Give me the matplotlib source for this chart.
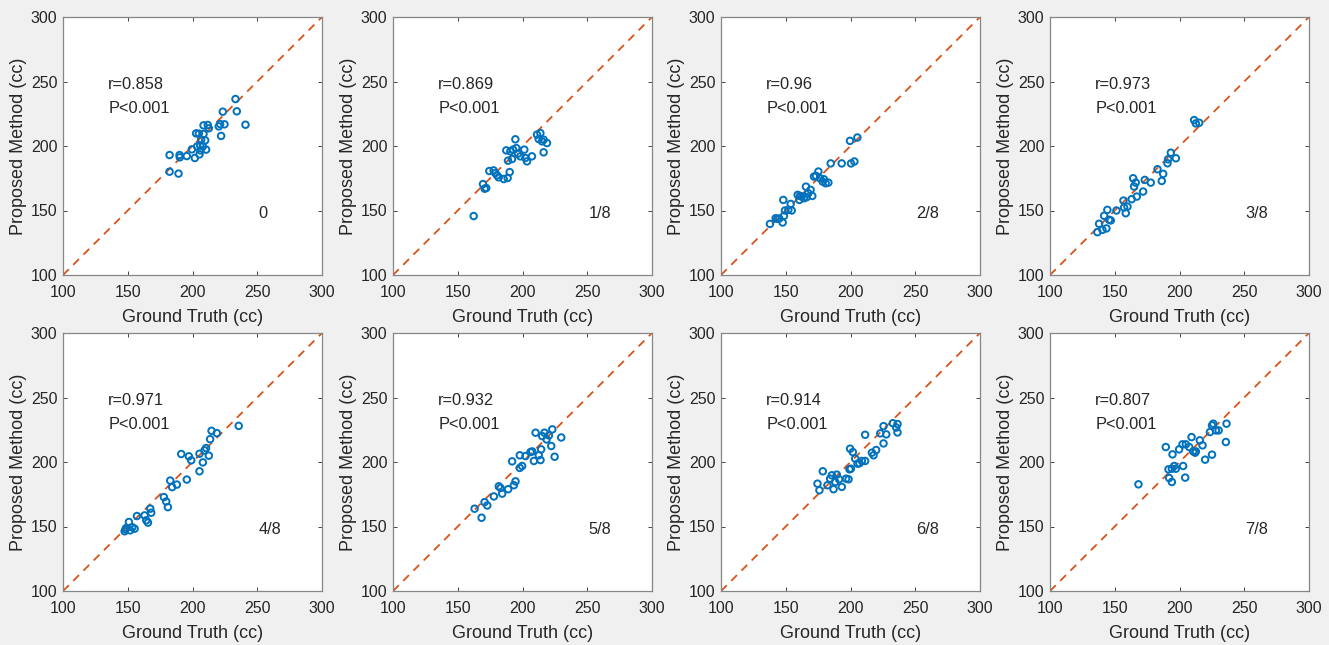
import numpy as np
import matplotlib

matplotlib.use("Agg")
import matplotlib.pyplot as plt  # noqa: E402

plt.rcParams["font.family"] = ["Liberation Sans", "DejaVu Sans"]

# per-panel data (ground truth, proposed method)
labels = ["0", "1/8", "2/8", "3/8", "4/8", "5/8", "6/8", "7/8"]
r_values = ["0.858", "0.869", "0.96", "0.973", "0.971", "0.932", "0.914", "0.807"]

gt_0 = [182.3, 182.3, 189.2, 190.0, 190.2, 195.6, 199.5, 201.8, 202.8, 203.6, 204.9, 205.4, 205.9, 206.7,
        206.2, 208.0, 208.5, 209.8, 210.5, 211.8, 212.6, 208.5, 220.3, 221.3, 222.1, 223.4, 224.7, 233.2,
        234.2, 240.9]
pm_0 = [193.0, 180.1, 178.6, 193.0, 191.2, 192.2, 197.4, 190.7, 209.8, 199.7, 209.6, 193.5, 200.5, 204.9,
        196.6, 199.7, 216.0, 204.4, 197.2, 216.3, 213.7, 209.3, 215.2, 217.0, 207.8, 226.6, 216.8, 236.4,
        226.9, 216.5]

gt_1 = [162.3, 169.5, 170.8, 172.0, 174.4, 177.7, 179.0, 180.3, 181.6, 185.5, 187.5, 188.5, 190.1, 188.8,
        190.6, 191.9, 192.7, 194.5, 195.2, 196.5, 198.3, 201.4, 202.2, 203.5, 207.3, 211.2, 212.5, 213.8,
        215.1, 216.3, 218.9, 216.3]
pm_1 = [145.7, 170.5, 166.9, 167.4, 180.6, 181.1, 179.0, 177.3, 175.7, 174.4, 196.6, 175.2, 179.8, 188.6,
        195.9, 189.9, 197.2, 205.2, 198.4, 194.1, 192.0, 197.2, 190.7, 188.1, 192.0, 208.8, 205.4, 210.0,
        203.6, 195.1, 202.3, 204.9]

gt_2 = [137.8, 142.2, 143.5, 145.0, 148.1, 148.6, 147.6, 149.4, 152.0, 153.8, 154.6, 159.2, 160.5, 161.0,
        162.3, 164.1, 165.6, 166.1, 167.4, 169.2, 170.5, 171.8, 173.4, 175.2, 176.4, 178.5, 179.5, 180.8,
        182.9, 184.7, 193.2, 199.6, 200.4, 203.0, 205.3]
pm_2 = [139.6, 144.0, 143.5, 143.8, 158.2, 145.8, 140.7, 150.0, 150.5, 155.1, 150.0, 162.1, 158.2, 161.3,
        160.8, 159.5, 168.5, 160.3, 163.4, 166.0, 161.3, 176.3, 176.8, 180.2, 175.0, 172.4, 174.2, 171.1,
        171.6, 186.5, 186.5, 204.0, 186.5, 188.0, 206.6]

gt_3 = [136.6, 137.9, 140.5, 141.8, 143.6, 144.3, 145.6, 146.9, 151.3, 156.7, 157.2, 158.5, 159.8, 163.1,
        164.2, 164.9, 166.2, 167.0, 171.9, 173.2, 177.8, 183.0, 186.3, 187.4, 190.7, 191.2, 193.3, 197.2,
        211.3, 212.6, 215.2]
pm_3 = [133.2, 139.7, 135.0, 145.9, 136.1, 150.5, 142.8, 142.3, 150.0, 157.7, 152.3, 147.9, 153.0, 158.8,
        175.0, 168.6, 171.6, 160.8, 164.7, 173.7, 171.6, 182.0, 172.9, 178.4, 186.6, 189.7, 194.8, 190.5,
        220.1, 217.5, 218.0]

gt_4 = [147.6, 148.3, 148.8, 150.9, 151.9, 153.5, 155.3, 157.1, 163.0, 164.3, 165.6, 167.4, 168.1, 177.9,
        179.7, 181.0, 182.8, 184.3, 187.9, 191.3, 195.6, 197.2, 199.0, 205.4, 205.4, 208.0, 209.3, 210.5,
        212.6, 213.6, 214.7, 218.8, 235.7]
pm_4 = [146.3, 147.8, 148.8, 153.5, 147.0, 149.4, 148.3, 158.1, 158.6, 154.8, 153.0, 163.8, 160.7, 172.8,
        169.4, 165.0, 185.6, 180.5, 182.5, 206.2, 186.4, 204.4, 201.3, 192.8, 206.4, 199.7, 209.0, 210.8,
        204.9, 217.7, 224.2, 222.4, 228.0]

gt_5 = [163.0, 168.4, 170.7, 172.8, 177.9, 181.7, 183.0, 184.3, 188.9, 192.0, 193.3, 194.6, 197.9, 197.9,
        199.7, 202.3, 206.2, 207.5, 208.8, 210.1, 212.6, 213.9, 214.4, 215.2, 217.0, 218.6, 220.4, 222.2,
        223.0, 224.8, 229.9]
pm_5 = [163.8, 156.8, 168.9, 166.3, 173.3, 181.2, 179.9, 175.5, 178.9, 200.5, 182.0, 185.0, 195.4, 205.2,
        196.9, 204.6, 207.7, 208.2, 200.8, 222.7, 205.2, 201.5, 209.8, 220.1, 222.7, 217.5, 220.6, 212.4,
        225.3, 204.1, 219.0]

gt_6 = [174.5, 176.0, 178.6, 182.2, 184.3, 185.6, 186.9, 188.2, 189.4, 191.2, 193.3, 196.6, 198.5, 199.2,
        200.3, 199.7, 201.8, 203.6, 205.4, 206.9, 208.8, 211.3, 211.3, 216.5, 217.8, 219.8, 223.0, 225.5,
        225.5, 227.6, 232.7, 235.3, 236.3, 236.3]
pm_6 = [183.2, 178.1, 192.8, 182.0, 187.1, 189.7, 178.9, 184.5, 190.2, 186.6, 180.7, 187.1, 186.6, 194.3,
        194.8, 210.3, 207.7, 202.6, 198.7, 199.0, 200.8, 200.8, 221.1, 207.2, 205.2, 209.3, 222.2, 227.8,
        214.4, 221.4, 230.1, 226.7, 222.9, 229.4]

gt_7 = [168.3, 189.4, 191.5, 192.0, 194.1, 194.1, 195.9, 194.6, 197.2, 199.7, 202.3, 202.8, 204.4, 204.9,
        207.5, 209.3, 210.6, 212.1, 212.6, 215.7, 217.8, 219.8, 223.5, 225.1, 225.1, 226.1, 228.1, 230.2,
        236.3, 235.8]
pm_7 = [182.7, 211.6, 194.3, 187.6, 184.5, 194.8, 196.9, 205.9, 194.8, 209.8, 213.7, 196.9, 187.9, 213.7,
        211.6, 219.3, 208.2, 207.2, 208.2, 216.8, 212.9, 201.8, 223.2, 205.7, 228.4, 229.7, 224.5, 224.5,
        229.7, 215.5]

ground_truth = [gt_0, gt_1, gt_2, gt_3, gt_4, gt_5, gt_6, gt_7]
proposed = [pm_0, pm_1, pm_2, pm_3, pm_4, pm_5, pm_6, pm_7]

BLUE = "#0072BD"
ORANGE = "#D95319"
BG = "#f0f0f0"
INK = "#262626"

W, H = 1329, 645
fig = plt.figure(figsize=(W / 100, H / 100), dpi=100, facecolor=BG)

# axes boxes in pixels (left edges, bottom edges from the top)
col_left = [63, 393, 721, 1050]
row_bottom = [275, 591]
ax_w, ax_h = 259, 258

for i in range(8):
    row, col = divmod(i, 4)
    rect = [col_left[col] / W, 1 - row_bottom[row] / H, ax_w / W, ax_h / H]
    ax = fig.add_axes(rect)
    ax.set_facecolor("white")

    ax.plot([100, 300], [100, 300], linestyle=(0, (4.5, 3.5)), color=ORANGE, linewidth=1.3, zorder=1)
    ax.scatter(np.asarray(ground_truth[i]), np.asarray(proposed[i]), s=22, facecolors="none",
               edgecolors=BLUE, linewidths=1.4, zorder=2)

    ax.set_xlim(100, 300)
    ax.set_ylim(100, 300)
    ticks = [100, 150, 200, 250, 300]
    ax.set_xticks(ticks)
    ax.set_yticks(ticks)
    ax.tick_params(direction="in", top=True, right=True, length=3, width=0.6, color=INK,
                   labelsize=11.5, labelcolor=INK)
    ax.tick_params(axis="x", pad=7)
    ax.tick_params(axis="y", pad=4)
    for sp in ax.spines.values():
        sp.set_color("#868686")
        sp.set_linewidth(0.9)

    ax.set_xlabel("Ground Truth (cc)", fontsize=13, color=INK, labelpad=7)
    ax.set_ylabel("Proposed Method (cc)", fontsize=13, color=INK, labelpad=3)

    ax.text(135, 248, f"r={r_values[i]}", fontsize=11.8, color=INK, va="center", ha="left")
    ax.text(135, 229, "P<0.001", fontsize=11.8, color=INK, va="center", ha="left")
    ax.text(251, 148, labels[i], fontsize=11.8, color=INK, va="center", ha="left")

fig.savefig("out.png", dpi=100, facecolor=BG)
